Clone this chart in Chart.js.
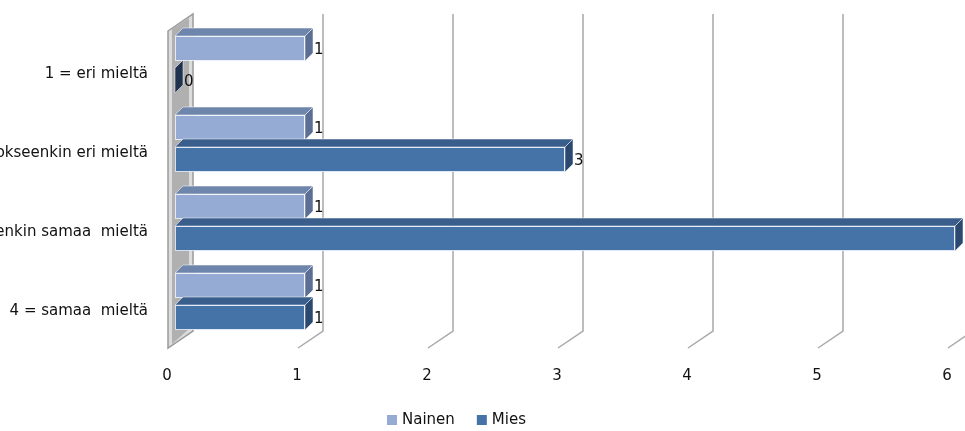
<!DOCTYPE html>
<html>
<head>
<meta charset="utf-8">
<script src="https://cdn.jsdelivr.net/npm/chart.js@4/dist/chart.umd.min.js"></script>
<style>
  html, body { margin: 0; padding: 0; background: #fff; }
  #wrap { width: 965px; height: 431px; }
</style>
</head>
<body>
<div id="wrap"><canvas id="chart" width="965" height="431"></canvas></div>
<script>
/* ── data ── */
const categories = ['1 = eri mieltä', '2 = jokseenkin eri mieltä', '3 = jokseenkin samaa  mieltä', '4 = samaa  mieltä'];
const nainen = [1, 1, 1, 1];
const mies   = [0, 3, 6, 1];
const xTicks = [0, 1, 2, 3, 4, 5, 6];

/* ── 3d look: [front, top, side] ── */
const shades = [
  ['#95abd4', '#6f86ac', '#5b6f94'],
  ['#4572a7', '#3a5e8b', '#2a4870']
];
const DX = 8, DY = -8;
const FAMILY = '"DejaVu Sans", Arial, sans-serif';
const FONT = '15px ' + FAMILY;

/* ── walls, gridlines, bar depth, labels ── */
const threeD = {
  id: 'threeD',
  beforeDatasetsDraw(chart) {
    const { ctx, chartArea: a, scales: { x } } = chart;
    const top = a.top - 11, backDx = 18, floorY = a.bottom + 7, backY = a.bottom - 10;
    ctx.save();
    // side wall
    const x0 = x.getPixelForValue(0);
    ctx.beginPath();
    ctx.moveTo(x0 - 7, top + 17);
    ctx.lineTo(x0 + backDx, top);
    ctx.lineTo(x0 + backDx, backY);
    ctx.lineTo(x0 - 7, floorY);
    ctx.closePath();
    ctx.fillStyle = '#dcdcdc';
    ctx.fill();
    ctx.strokeStyle = '#9a9a9a';
    ctx.lineWidth = 1.5;
    ctx.stroke();
    ctx.beginPath();
    ctx.moveTo(x0 - 3, top + 15);
    ctx.lineTo(x0 + backDx - 4, top + 4);
    ctx.lineTo(x0 + backDx - 4, backY - 2);
    ctx.lineTo(x0 - 3, floorY - 4);
    ctx.closePath();
    ctx.fillStyle = '#b0b0b0';
    ctx.fill();
    // gridlines
    ctx.strokeStyle = '#a8a8a8';
    ctx.lineWidth = 1.5;
    xTicks.slice(1).forEach(v => {
      const px = x.getPixelForValue(v);
      ctx.beginPath();
      ctx.moveTo(px + backDx, top);
      ctx.lineTo(px + backDx, backY);
      ctx.lineTo(px - 7, floorY);
      ctx.stroke();
    });
    ctx.restore();
  },
  afterDatasetsDraw(chart) {
    const { ctx } = chart;
    ctx.save();
    chart.data.datasets.forEach((ds, di) => {
      const [, topC, sideC] = shades[di];
      chart.getDatasetMeta(di).data.forEach((bar, i) => {
        const { x, y, base, height } = bar.getProps(['x', 'y', 'base', 'height'], true);
        const t = y - height / 2, b = y + height / 2;
        // top face
        ctx.beginPath();
        ctx.moveTo(base, t);
        ctx.lineTo(base + DX, t + DY);
        ctx.lineTo(x + DX, t + DY);
        ctx.lineTo(x, t);
        ctx.closePath();
        ctx.fillStyle = topC;
        ctx.fill();
        ctx.strokeStyle = 'rgba(255,255,255,0.5)';
        ctx.lineWidth = 1;
        ctx.stroke();
        // side face
        ctx.beginPath();
        ctx.moveTo(x, t);
        ctx.lineTo(x + DX, t + DY);
        ctx.lineTo(x + DX, b + DY);
        ctx.lineTo(x, b);
        ctx.closePath();
        ctx.fillStyle = ds.data[i] === 0 ? '#1f3250' : sideC;
        ctx.fill();
        ctx.stroke();
        // value label
        ctx.fillStyle = '#111';
        ctx.font = FONT;
        ctx.textAlign = 'left';
        ctx.textBaseline = 'middle';
        ctx.fillText(String(ds.data[i]), x + DX + 1, y + 2);
      });
    });
    ctx.restore();
  },
  afterDraw(chart) {
    // legend
    const { ctx } = chart;
    ctx.save();
    ctx.font = FONT;
    ctx.textBaseline = 'middle';
    ctx.textAlign = 'left';
    const cy = 420;
    let cx = 387;
    chart.data.datasets.forEach(ds => {
      ctx.fillStyle = ds.backgroundColor;
      ctx.fillRect(cx, cy - 5, 10, 10);
      ctx.fillStyle = '#111';
      ctx.fillText(ds.label, cx + 15, cy);
      cx += 15 + ctx.measureText(ds.label).width + 22;
    });
    ctx.restore();
  }
};

new Chart(document.getElementById('chart'), {
  type: 'bar',
  data: {
    labels: categories,
    datasets: [
      { label: 'Nainen', data: nainen, backgroundColor: shades[0][0], borderColor: 'rgba(235,240,250,0.9)', borderWidth: 1, borderSkipped: false },
      { label: 'Mies',   data: mies,   backgroundColor: shades[1][0], borderColor: 'rgba(220,230,245,0.9)', borderWidth: 1, borderSkipped: false }
    ]
  },
  options: {
    indexAxis: 'y',
    responsive: false,
    animation: false,
    categoryPercentage: 0.81,
    barPercentage: 0.78,
    layout: { padding: { top: 25, right: 10, bottom: 40, left: 0 } },
    plugins: { legend: { display: false }, tooltip: { enabled: false } },
    scales: {
      x: {
        min: 0, max: 6,
        grid: { display: false, drawTicks: false },
        border: { display: false },
        afterFit: s => { s.height = 50; s.paddingLeft = 0; s.paddingRight = 0; },
        ticks: { stepSize: 1, padding: 26, labelOffset: -8, color: '#111', font: { family: FAMILY, size: 15 } }
      },
      y: {
        grid: { display: false, drawTicks: false },
        border: { display: false },
        afterFit: s => { s.width = 175; s.paddingTop = 0; s.paddingBottom = 0; },
        ticks: { padding: 27, labelOffset: 10, color: '#111', font: { family: FAMILY, size: 15 } }
      }
    }
  },
  plugins: [threeD]
});
</script>
</body>
</html>
